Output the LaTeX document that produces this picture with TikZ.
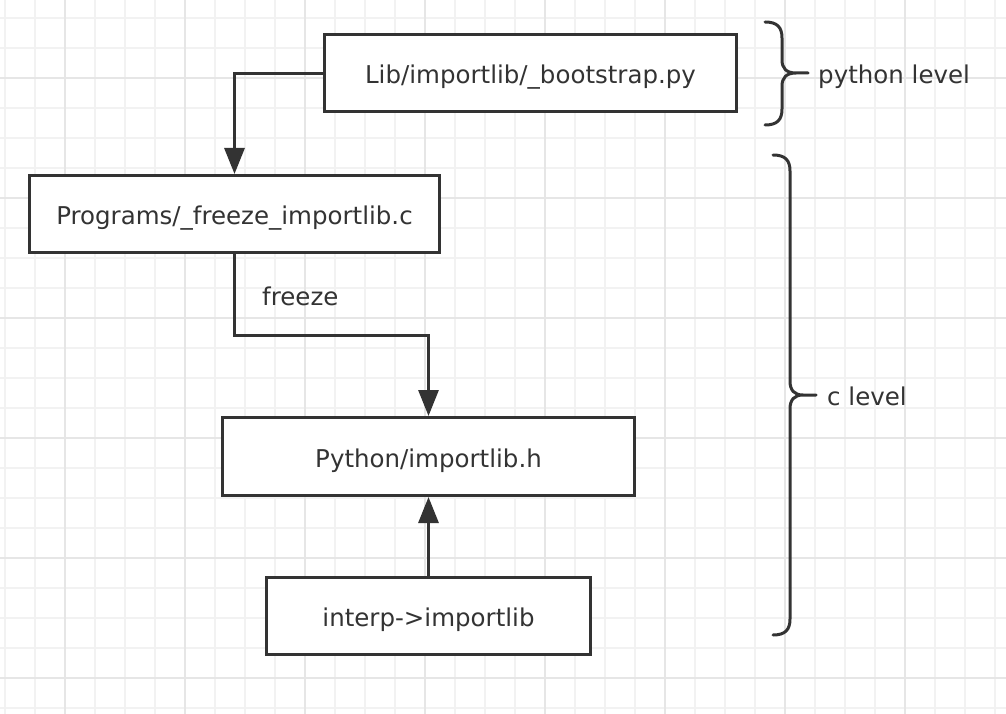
\documentclass[tikz,border=0pt]{standalone}
\usepackage{fontspec}
\setmainfont{DejaVu Sans}
\usepackage{xcolor}
\usetikzlibrary{arrows.meta,positioning}

\definecolor{ink}{HTML}{333333}
\definecolor{gridminor}{HTML}{F2F2F2}
\definecolor{gridmajor}{HTML}{E6E6E6}

\tikzset{
  srcbox/.style={rectangle, draw=ink, line width=3pt, fill=white, text=ink,
    minimum height=77pt, inner sep=0pt, text height=21pt, text depth=0pt},
  flow/.style={draw=ink, line width=3pt, -{Triangle[length=26pt, width=20pt]}},
  lbl/.style={text=ink, inner sep=0pt},
  levelbrace/.style={draw=ink, line width=3pt, line cap=round, line join=round}
}

\begin{document}
\begin{tikzpicture}[x=1pt, y=-1pt, every node/.style={font=\fontsize{24.5}{29}\selectfont}]
	\useasboundingbox (0,0) rectangle (1006,714);
	\fill[white] (0,0) rectangle (1006,714);
	% background grid
	\foreach \gx in {5,35,...,1005} \draw[gridminor, line width=1.2pt] (\gx,0) -- (\gx,714);
	\foreach \gy in {18,48,...,714} \draw[gridminor, line width=1.2pt] (0,\gy) -- (1006,\gy);
	\foreach \gx in {65,185,...,1005} \draw[gridmajor, line width=1.6pt] (\gx,0) -- (\gx,714);
	\foreach \gy in {78,198,...,714} \draw[gridmajor, line width=1.6pt] (0,\gy) -- (1006,\gy);

	% files
	\node[srcbox, minimum width=412pt] (bootstrap) at (530.5,73.5) {Lib/importlib/\_bootstrap.py};
	\node[srcbox, minimum width=410pt] (freezec) at (234.5,214) {Programs/\_freeze\_importlib.c};
	\node[srcbox, minimum width=412pt, minimum height=78pt] (importh) at (428.5,456.5) {Python/importlib.h};
	\node[srcbox, minimum width=324pt] (interp) at (428.5,616) {interp->importlib};

	% connectors
	\draw[flow] (bootstrap.west) -| (freezec.north);
	\draw[flow] (freezec.south) -- ++(0,81) -| (importh.north);
	\draw[flow] (interp.north) -- (importh.south);
	\node[lbl, anchor=base west] (freezelbl) at (262,305) {freeze};

	% levels
	\draw[levelbrace] (765,22) .. controls (777,22) and (782,27) .. (782,38) -- (782,60)
		.. controls (782,68) and (786,73) .. (796,73) -- (808,73)
		(796,73) .. controls (786,73) and (782,78) .. (782,86) -- (782,109)
		.. controls (782,120) and (777,125) .. (765,125);
	\draw[levelbrace] (773,155) .. controls (785,155) and (790,160) .. (790,171) -- (790,381)
		.. controls (790,390) and (794,395) .. (803,395) -- (816,395)
		(803,395) .. controls (794,395) and (790,400) .. (790,409) -- (790,619)
		.. controls (790,630) and (785,635) .. (773,635);
	\coordinate (pytip) at (808,84);
	\coordinate (ctip) at (816,405);
	\node[lbl, right=10pt of pytip, anchor=base west] (pylevel) {python level};
	\node[lbl, right=11pt of ctip, anchor=base west] (clevel) {c level};
\end{tikzpicture}
\end{document}
